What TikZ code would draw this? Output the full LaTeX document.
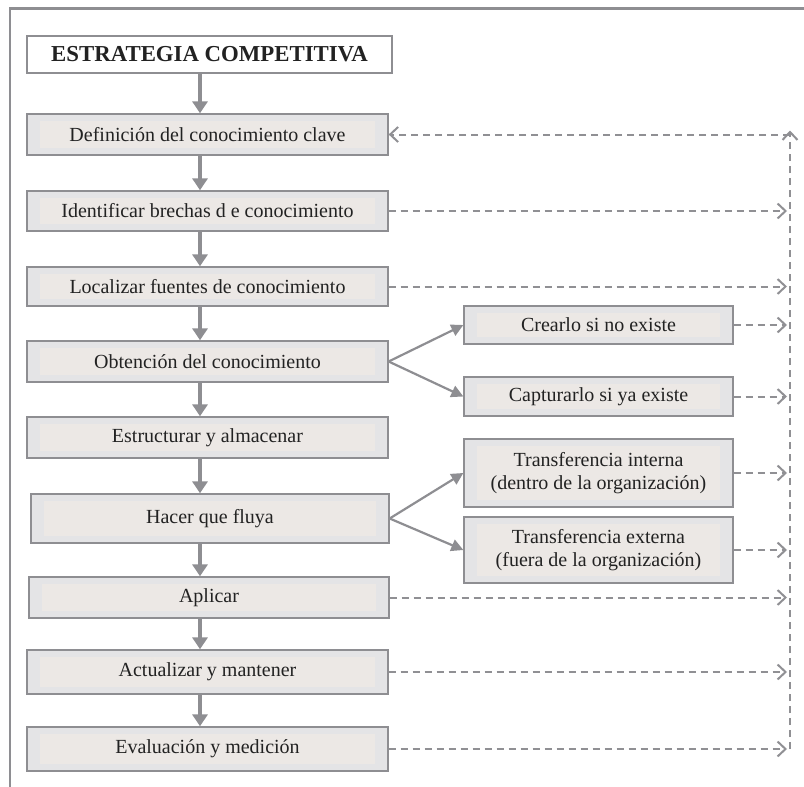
\documentclass[tikz,border=0pt]{standalone}
\usepackage{fontspec}
\setmainfont{Liberation Serif}
\usetikzlibrary{arrows.meta,positioning}

\definecolor{linegray}{HTML}{8E8E92}
\definecolor{boxgray}{HTML}{E4E4E6}
\definecolor{innergray}{HTML}{ECE8E5}
\definecolor{dashgray}{HTML}{909094}
\definecolor{textdark}{HTML}{222222}

\begin{document}
\begin{tikzpicture}[x=1pt,y=-1pt,
    stepbox/.style={draw=linegray, line width=1.3pt, fill=boxgray, text=textdark,
      minimum width=361pt, minimum height=41pt, inner sep=0pt, align=center,
      font=\fontsize{20}{23}\selectfont,
      path picture={\fill[innergray]
        ([shift={(13pt,7pt)}]path picture bounding box.south west) rectangle
        ([shift={(-13pt,-7pt)}]path picture bounding box.north east);}},
    sidebox/.style={stepbox, minimum width=269pt},
    down/.style={draw=linegray, line width=4pt, -{Triangle[length=12pt,width=15pt]}},
    branch/.style={draw=linegray, line width=2.2pt, -{Triangle[length=12pt,width=12pt]}},
    fb/.style={draw=dashgray, line width=2pt, dash pattern=on 7pt off 5pt,
      -{Straight Barb[length=8pt,width=15pt]}}]
    \useasboundingbox (0,0) rectangle (804,787);
    % frame
    \draw[linegray, line width=2.5pt] (804,8.5) -- (10,8.5) -- (10,787);
    % main chain
    \node[draw=linegray, line width=1.3pt, fill=white, text=textdark,
      minimum width=365pt, minimum height=37pt, inner sep=0pt,
      font=\fontsize{22.8}{26}\selectfont\bfseries] (title) at (209.5,54.5) {ESTRATEGIA COMPETITIVA};
    \node[stepbox] (b1) at (207.5,134.5) {Definición del conocimiento clave};
    \node[stepbox, minimum height=40pt] (b2) at (207.5,211) {Identificar brechas d e conocimiento};
    \node[stepbox, minimum height=39pt] (b3) at (207.5,286.5) {Localizar fuentes de conocimiento};
    \node[stepbox] (b4) at (207.5,361.5) {Obtención del conocimiento};
    \node[stepbox] (b5) at (207.5,437.5) {Estructurar y almacenar};
    \node[stepbox, minimum width=358pt, minimum height=49pt] (b6) at (210,518.5) {Hacer que fluya};
    \node[stepbox, minimum width=360pt] (b7) at (209,597.5) {Aplicar};
    \node[stepbox, minimum height=44pt] (b8) at (207.5,672) {Actualizar y mantener};
    \node[stepbox, minimum height=44pt] (b9) at (207.5,749) {Evaluación y medición};
    % side boxes
    \node[sidebox, minimum height=38pt] (c1) at (598.5,325) {Crearlo si no existe};
    \node[sidebox, minimum height=39pt] (c2) at (598.5,396.5) {Capturarlo si ya existe};
    \node[sidebox, minimum height=68pt] (t1) at (598.5,473) {Transferencia interna\\(dentro de la organización)};
    \node[sidebox, minimum height=66pt] (t2) at (598.5,550) {Transferencia externa\\(fuera de la organización)};
    % columns
    \coordinate (col) at (200,0);
    \coordinate (fbx) at (787,0);
    \coordinate (fbtop) at (790,134.5);
    \coordinate (fbbot) at (790,749);
    % down arrows
    \foreach \a/\b in {title/b1, b1/b2, b2/b3, b3/b4, b4/b5, b5/b6, b6/b7, b7/b8, b8/b9}
      \draw[down] (\a.south -| col) -- (\b.north -| col);
    % branches
    \draw[branch] (b4.east) -- (c1.west);
    \draw[branch] (b4.east) -- (c2.west);
    \draw[branch] (b6.east) -- (t1.west);
    \draw[branch] (b6.east) -- (t2.west);
    % feedback
    \foreach \n in {b2, b3, c1, c2, t1, t2, b7, b8, b9}
      \draw[fb] (\n.east) -- (\n.east -| fbx);
    \draw[fb] (fbbot) -- ([yshift=4pt]fbtop);
    \draw[fb] (fbtop) -- (b1.east);
\end{tikzpicture}
\end{document}
